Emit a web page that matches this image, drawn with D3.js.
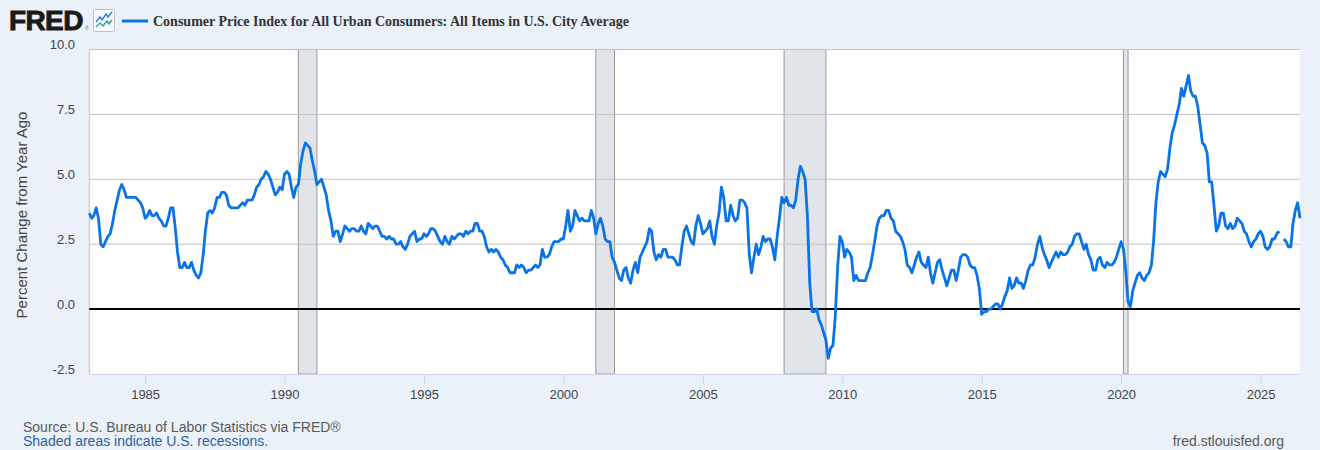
<!DOCTYPE html>
<html>
<head>
<meta charset="utf-8">
<script src="https://cdn.jsdelivr.net/npm/d3@7.9.0/dist/d3.min.js"></script>
<style>
  html, body { margin: 0; padding: 0; background: #eaf1f9; }
  svg { display: block; }
</style>
</head>
<body>
<svg id="chart" width="1320" height="450"></svg>
<script>
// CPI, percent change from year ago, monthly, starting Jan 1983
const startYear = 1983;
const cpi1980s = [
  3.7, 3.5, 3.6, 3.9, 3.5, 2.5, 2.4, 2.6, 2.8, 2.9, 3.3, 3.8,
  4.2, 4.6, 4.8, 4.6, 4.3, 4.3, 4.3, 4.3, 4.3, 4.2, 4.1, 3.9,
  3.5, 3.6, 3.8, 3.6, 3.6, 3.7, 3.5, 3.4, 3.2, 3.2, 3.5, 3.9,
  3.9, 3.1, 2.2, 1.6, 1.6, 1.8, 1.6, 1.6, 1.8, 1.5, 1.3, 1.2,
  1.4, 2.1, 3.0, 3.7, 3.8, 3.7, 3.9, 4.3, 4.3, 4.5, 4.5, 4.4,
  4.0, 3.9, 3.9, 3.9, 3.9, 4.0, 4.1, 4.0, 4.2, 4.2, 4.2, 4.4,
  4.7, 4.8, 5.0, 5.1, 5.3, 5.2, 5.0, 4.7, 4.4, 4.5, 4.7, 4.6
];
const cpi1990s = [
  5.2, 5.3, 5.2, 4.7, 4.3, 4.7, 4.8, 5.6, 6.1, 6.4, 6.3, 6.2,
  5.7, 5.3, 4.8, 4.9, 5.0, 4.7, 4.4, 3.8, 3.4, 2.8, 3.0, 3.0,
  2.6, 2.9, 3.2, 3.1, 3.0, 3.1, 3.1, 3.0, 3.0, 3.2, 3.0, 2.9,
  3.3, 3.2, 3.1, 3.2, 3.2, 3.0, 2.8, 2.8, 2.7, 2.8, 2.7, 2.7,
  2.5, 2.5, 2.6, 2.4, 2.3, 2.5, 2.8, 2.9, 3.0, 2.6, 2.7, 2.7,
  2.9, 2.8, 2.9, 3.1, 3.1, 3.0, 2.8, 2.6, 2.5, 2.8, 2.6, 2.5,
  2.8, 2.7, 2.8, 2.9, 2.9, 2.8, 3.0, 2.9, 3.0, 3.0, 3.3, 3.3,
  3.0, 3.0, 2.8, 2.4, 2.2, 2.3, 2.2, 2.3, 2.2, 2.0, 1.9, 1.7,
  1.6, 1.4, 1.4, 1.4, 1.7, 1.6, 1.7, 1.6, 1.4, 1.5, 1.5, 1.6,
  1.7, 1.6, 1.7, 2.3, 2.0, 2.0, 2.1, 2.4, 2.6, 2.6, 2.6, 2.7
];
const cpi2000s = [
  2.7, 3.2, 3.8, 3.0, 3.2, 3.8, 3.6, 3.4, 3.5, 3.4, 3.4, 3.4,
  3.8, 3.5, 2.9, 3.3, 3.5, 3.2, 2.7, 2.6, 2.6, 2.0, 1.8, 1.5,
  1.2, 1.1, 1.5, 1.6, 1.2, 1.0, 1.5, 1.8, 1.4, 2.0, 2.2, 2.4,
  2.6, 3.1, 3.0, 2.2, 1.9, 2.1, 2.0, 2.3, 2.3, 2.0, 2.0, 2.0,
  1.9, 1.7, 1.7, 2.4, 3.0, 3.2, 2.9, 2.6, 2.5, 3.2, 3.6, 3.3,
  2.9, 3.0, 3.1, 3.4, 2.8, 2.5, 3.2, 3.7, 4.7, 4.3, 3.4, 3.4,
  4.0, 3.6, 3.4, 3.5, 4.2, 4.2, 4.1, 3.9, 2.1, 1.4, 2.0, 2.5,
  2.1, 2.4, 2.8, 2.6, 2.7, 2.7, 2.4, 1.9, 2.8, 3.5, 4.3, 4.1,
  4.3, 4.0, 4.0, 3.9, 4.2, 5.0, 5.5, 5.3, 5.0, 3.6, 1.0, -0.1,
  -0.1, 0.0, -0.4, -0.6, -0.9, -1.2, -1.9, -1.5, -1.4, -0.3, 1.6, 2.8
];
const cpi2010s = [
  2.6, 2.0, 2.3, 2.2, 2.0, 1.1, 1.3, 1.1, 1.1, 1.1, 1.1, 1.4,
  1.6, 2.1, 2.6, 3.2, 3.5, 3.6, 3.6, 3.8, 3.8, 3.5, 3.4, 3.0,
  2.9, 2.8, 2.6, 2.3, 1.7, 1.6, 1.4, 1.7, 2.0, 2.2, 1.8, 1.7,
  1.6, 2.0, 1.4, 1.0, 1.4, 1.8, 1.9, 1.5, 1.2, 0.9, 1.2, 1.5,
  1.5, 1.1, 1.5, 2.0, 2.1, 2.1, 2.0, 1.7, 1.6, 1.6, 1.3, 0.8,
  -0.2, -0.1, -0.1, 0.0, 0.0, 0.1, 0.2, 0.2, 0.0, 0.2, 0.5, 0.7,
  1.2, 0.8, 0.9, 1.2, 1.0, 1.0, 0.8, 1.1, 1.5, 1.7, 1.7, 2.0,
  2.5, 2.8, 2.4, 2.1, 1.9, 1.6, 1.8, 2.0, 2.2, 2.0, 2.2, 2.1,
  2.1, 2.2, 2.4, 2.5, 2.8, 2.9, 2.9, 2.6, 2.3, 2.5, 2.1, 1.9,
  1.5, 1.5, 1.9, 2.0, 1.7, 1.6, 1.8, 1.7, 1.7, 1.8, 2.0, 2.3
];
const cpi2020s = [
  2.6, 2.3, 1.5, 0.3, 0.1, 0.7, 1.0, 1.3, 1.4, 1.2, 1.1, 1.3,
  1.4, 1.7, 2.6, 4.1, 4.9, 5.3, 5.2, 5.1, 5.4, 6.2, 6.8, 7.1,
  7.5, 7.9, 8.5, 8.2, 8.6, 9.0, 8.4, 8.2, 8.2, 7.8, 7.1, 6.4,
  6.3, 6.0, 4.9, 4.9, 4.0, 3.0, 3.2, 3.7, 3.7, 3.2, 3.1, 3.3,
  3.1, 3.2, 3.5, 3.4, 3.3, 3.0, 2.9, 2.6, 2.4, 2.6, 2.7, 2.9,
  3.0, 2.8, 2.4, 2.3, 2.4, 2.7, 2.7, 2.9, 3.0, null, 2.7, 2.6,
  2.4, 2.4, 3.3, 3.8, 4.1, 3.5
];

// NBER recessions [first month, last month]
const recessions = [
  ['1990-07-01', '1991-03-01'],
  ['2001-03-01', '2001-11-01'],
  ['2007-12-01', '2009-06-01'],
  ['2020-02-01', '2020-04-01']
];

const yTicks = [-2.5, 0, 2.5, 5, 7.5, 10];
const xTickYears = [1985, 1990, 1995, 2000, 2005, 2010, 2015, 2020, 2025];

const seriesTitle = 'Consumer Price Index for All Urban Consumers: All Items in U.S. City Average';
const yTitle = 'Percent Change from Year Ago';

const values = [].concat(cpi1980s, cpi1990s, cpi2000s, cpi2010s, cpi2020s);
const data = values.map((v, i) => ({ date: new Date(startYear, i, 1), value: v }));

const svg = d3.select('#chart');
const plot = { left: 89.3, right: 1300, top: 49.5, bottom: 374 };

const x = d3.scaleTime()
  .domain([data[0].date, data[data.length - 1].date])
  .range([plot.left, plot.right]);
const y = d3.scaleLinear()
  .domain([-2.5, 10])
  .range([plot.bottom, plot.top]);

// header
const header = svg.append('g');
header.append('text')
  .attr('x', 9).attr('y', 30)
  .attr('font-family', 'Liberation Sans, Arial, sans-serif')
  .attr('font-weight', 'bold').attr('font-size', 28)
  .attr('letter-spacing', -0.6)
  .attr('fill', '#1a1a1a')
  .attr('stroke', '#1a1a1a').attr('stroke-width', 0.9)
  .text('FRED');
header.append('text')
  .attr('x', 85).attr('y', 30)
  .attr('font-family', 'Liberation Sans, Arial, sans-serif')
  .attr('font-size', 5).attr('fill', '#666')
  .text('®');

const icon = header.append('g').attr('transform', 'translate(93,9)');
icon.append('rect')
  .attr('x', 0.5).attr('y', 0.5).attr('width', 21).attr('height', 22).attr('rx', 2)
  .attr('fill', '#f7f9fc').attr('stroke', '#b8c0c8');
icon.append('path')
  .attr('d', 'M3,13 L7,8 L9,11 L13,5 L15,8 L19,3')
  .attr('fill', 'none').attr('stroke', '#2a7fd4').attr('stroke-width', 1.4);
icon.append('path')
  .attr('d', 'M3,18 L7,14 L10,17 L14,12 L16,15 L19,11')
  .attr('fill', 'none').attr('stroke', '#3aa88a').attr('stroke-width', 1.4);

header.append('line')
  .attr('x1', 122).attr('x2', 148).attr('y1', 21).attr('y2', 21)
  .attr('stroke', '#0a73e6').attr('stroke-width', 3);
header.append('text')
  .attr('x', 153).attr('y', 26)
  .attr('font-family', 'Liberation Serif, Times New Roman, serif')
  .attr('font-weight', 'bold').attr('font-size', 14)
  .attr('fill', '#333')
  .text(seriesTitle);

// plot background
svg.append('rect')
  .attr('x', plot.left).attr('y', plot.top)
  .attr('width', plot.right - plot.left).attr('height', plot.bottom - plot.top)
  .attr('fill', '#fff');

// recession bands
svg.append('g').selectAll('rect')
  .data(recessions)
  .join('rect')
  .attr('x', d => x(new Date(d[0])))
  .attr('y', plot.top)
  .attr('width', d => x(new Date(d[1])) - x(new Date(d[0])))
  .attr('height', plot.bottom - plot.top)
  .attr('fill', '#e1e5ea')
  .attr('stroke', '#9a9a9a')
  .attr('stroke-width', 1);

// grid lines
svg.append('g').selectAll('line')
  .data(yTicks.filter(t => t !== 0 && t !== -2.5))
  .join('line')
  .attr('x1', plot.left).attr('x2', plot.right)
  .attr('y1', d => y(d)).attr('y2', d => y(d))
  .attr('stroke', '#c2c2c2').attr('stroke-width', 1);

// left axis line
svg.append('line')
  .attr('x1', plot.left).attr('x2', plot.left)
  .attr('y1', plot.top).attr('y2', plot.bottom)
  .attr('stroke', '#c2c2c2').attr('stroke-width', 1);

// y axis
const yAxis = d3.axisLeft(y)
  .tickValues(yTicks)
  .tickFormat(d => d.toFixed(1))
  .tickSize(0)
  .tickPadding(0);
const yg = svg.append('g')
  .attr('transform', `translate(75,-5)`)
  .call(yAxis);
yg.select('.domain').remove();
yg.selectAll('text')
  .attr('font-family', 'Liberation Sans, Arial, sans-serif')
  .attr('font-size', 13)
  .attr('fill', '#444')
  .attr('dy', '0.32em');

svg.append('text')
  .attr('transform', 'translate(27,215) rotate(-90)')
  .attr('text-anchor', 'middle')
  .attr('font-family', 'Liberation Sans, Arial, sans-serif')
  .attr('font-size', 15)
  .attr('fill', '#444')
  .text(yTitle);

// x axis
const xAxis = d3.axisBottom(x)
  .tickValues(xTickYears.map(yr => new Date(yr, 0, 1)))
  .tickFormat(d3.timeFormat('%Y'))
  .tickSize(10)
  .tickPadding(6);
const xg = svg.append('g')
  .attr('transform', `translate(0,${plot.bottom})`)
  .call(xAxis);
xg.select('.domain')
  .attr('d', `M${plot.left},0.5H${plot.right}`)
  .attr('stroke', '#ccd6eb');
xg.selectAll('.tick line').attr('stroke', '#ccd6eb');
xg.selectAll('text')
  .attr('font-family', 'Liberation Sans, Arial, sans-serif')
  .attr('font-size', 13)
  .attr('fill', '#444');

// zero line
svg.append('line')
  .attr('x1', plot.left).attr('x2', plot.right)
  .attr('y1', y(0)).attr('y2', y(0))
  .attr('stroke', '#000').attr('stroke-width', 2);

// series line
const line = d3.line()
  .defined(d => d.value !== null)
  .x(d => x(d.date))
  .y(d => y(d.value));
svg.append('path')
  .datum(data)
  .attr('d', line)
  .attr('fill', 'none')
  .attr('stroke', '#0a73e6')
  .attr('stroke-width', 2.8)
  .attr('stroke-linejoin', 'round');

// footer
const footer = svg.append('g')
  .attr('font-family', 'Liberation Sans, Arial, sans-serif')
  .attr('font-size', 14);
footer.append('text')
  .attr('x', 23).attr('y', 431.5)
  .attr('fill', '#595959')
  .text('Source: U.S. Bureau of Labor Statistics via FRED®');
footer.append('text')
  .attr('x', 23).attr('y', 445.5)
  .attr('fill', '#2f5f9e')
  .text('Shaded areas indicate U.S. recessions.');
footer.append('text')
  .attr('x', 1284).attr('y', 445.5)
  .attr('text-anchor', 'end')
  .attr('fill', '#595959')
  .text('fred.stlouisfed.org');
</script>
</body>
</html>
